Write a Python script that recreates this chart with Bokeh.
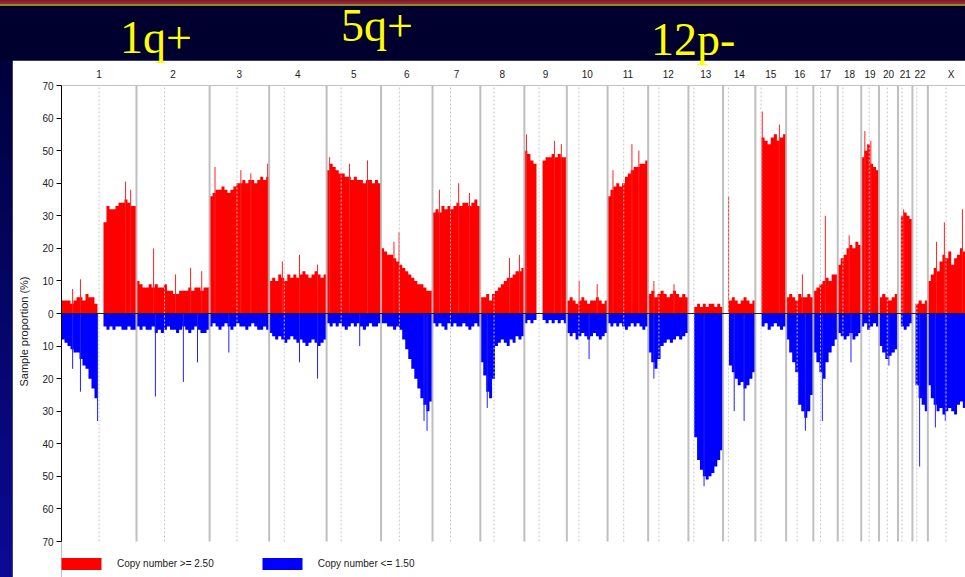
from bokeh.plotting import figure
from bokeh.layouts import column, row
from bokeh.models import (Range1d, FixedTicker, LinearAxis, Legend, LegendItem,
                          ColumnDataSource, Span, Div)
from bokeh.embed import file_html
from bokeh.resources import INLINE

# ---------------- data ----------------
chrom_names = ["1", "2", "3", "4", "5", "6", "7", "8", "9", "10", "11", "12",
               "13", "14", "15", "16", "17", "18", "19", "20", "21", "22", "X"]
chrom_len_mb = [249.25, 243.2, 198.0, 191.15, 180.9, 171.1, 159.1, 146.4, 141.2,
                135.5, 135.0, 133.85, 115.2, 107.3, 102.5, 90.35, 81.2, 78.1,
                59.1, 63.0, 48.1, 51.3, 155.3]
centromere_mb = [125.0, 93.3, 91.0, 50.4, 48.4, 61.0, 59.9, 45.6, 49.0, 40.2,
                 53.7, 35.8, 17.9, 17.6, 19.0, 36.6, 24.0, 17.2, 26.5, 27.5,
                 13.2, 14.7, 60.6]

# gain (copy number >= 2.50), % of samples, evenly spaced along each chromosome
gain_c1 = [4, 4, 4, 3, 4, 5, 5, 4, 6, 5, 5, 3, 0, 0, 28, 33, 32, 32, 33, 34, 34, 35, 34, 33, 33]
gain_c2 = [10, 9, 8, 8, 9, 8, 9, 8, 8, 9, 7, 7, 6, 6, 7, 7, 7, 8, 7, 8, 8, 7, 8, 8]
gain_c3 = [36, 37, 38, 38, 39, 38, 37, 38, 39, 40, 40, 41, 40, 41, 41, 40, 41, 42, 41, 42]
gain_c4 = [10, 11, 10, 12, 11, 10, 12, 11, 12, 11, 12, 13, 12, 11, 12, 13, 12, 11, 12]
gain_c5 = [44, 46, 45, 44, 43, 43, 42, 42, 41, 42, 41, 41, 40, 41, 41, 40, 41, 40]
gain_c6 = [20, 19, 18, 18, 17, 16, 15, 14, 13, 12, 11, 10, 9, 9, 8, 7, 7]
gain_c7 = [31, 32, 31, 33, 32, 33, 32, 33, 34, 33, 34, 34, 33, 34, 35, 33]
gain_c8 = [5, 5, 6, 4, 6, 7, 8, 9, 10, 11, 11, 12, 13, 13, 14]
gain_c9 = [50, 49, 47, 46, 0, 0, 47, 48, 48, 49, 48, 49, 48, 48]
gain_c10 = [4, 5, 4, 3, 4, 5, 4, 3, 4, 4, 5, 4, 3, 4]
gain_c11 = [36, 38, 39, 40, 39, 40, 42, 43, 44, 45, 45, 46, 46, 47]
gain_c12 = [6, 7, 5, 6, 7, 6, 5, 6, 7, 6, 5, 6, 5]
gain_c13 = [0, 0, 2, 3, 2, 3, 2, 3, 3, 2, 3, 2]
gain_c14 = [0, 0, 4, 5, 4, 3, 4, 5, 4, 3, 4]
gain_c15 = [0, 0, 54, 53, 52, 54, 55, 53, 54, 55]
gain_c16 = [5, 6, 5, 4, 6, 5, 5, 6, 5]
gain_c17 = [7, 8, 9, 10, 11, 10, 12, 12]
gain_c18 = [15, 17, 18, 20, 21, 20, 22, 21]
gain_c19 = [48, 50, 52, 46, 45, 44]
gain_c20 = [5, 6, 5, 4, 5, 6]
gain_c21 = [0, 30, 31, 30, 29]
gain_c22 = [0, 3, 4, 3, 4]
gain_cX = [10, 12, 14, 13, 16, 18, 17, 19, 15, 17, 18, 20, 19, 22, 20, 18]

# loss (copy number <= 1.50), % of samples
loss_c1 = [8, 9, 10, 11, 12, 12, 14, 16, 17, 20, 23, 26, 0, 0, 4, 5, 4, 5, 4, 4, 5, 5, 4, 5, 5]
loss_c2 = [4, 5, 4, 5, 5, 4, 6, 5, 6, 5, 4, 5, 5, 6, 5, 4, 5, 6, 5, 4, 5, 6, 6, 5]
loss_c3 = [4, 3, 4, 5, 4, 3, 4, 5, 4, 3, 4, 4, 5, 4, 3, 4, 5, 5, 4, 5]
loss_c4 = [6, 7, 8, 7, 8, 9, 8, 7, 8, 9, 8, 9, 10, 9, 8, 9, 10, 9, 8]
loss_c5 = [3, 4, 3, 4, 3, 4, 5, 4, 3, 4, 3, 4, 5, 4, 3, 4, 4, 3]
loss_c6 = [3, 3, 4, 4, 5, 4, 5, 8, 11, 14, 17, 20, 23, 26, 28, 30, 27]
loss_c7 = [3, 4, 3, 4, 5, 3, 4, 3, 4, 4, 3, 4, 5, 4, 3, 4]
loss_c8 = [15, 19, 24, 26, 20, 10, 9, 8, 9, 10, 8, 9, 7, 8, 7]
loss_c9 = [3, 2, 3, 2, 0, 0, 2, 3, 2, 3, 2, 3, 2, 3]
loss_c10 = [6, 7, 6, 8, 7, 6, 7, 8, 7, 6, 7, 8, 7, 6]
loss_c11 = [3, 4, 3, 4, 3, 4, 5, 4, 3, 4, 3, 4, 5, 4]
loss_c12 = [12, 15, 17, 14, 10, 9, 8, 9, 8, 7, 8, 7, 6]
loss_c13 = [0, 0, 38, 45, 48, 50, 51, 50, 49, 47, 45, 42]
loss_c14 = [0, 0, 16, 18, 20, 22, 21, 23, 22, 20, 18]
loss_c15 = [0, 0, 4, 3, 5, 4, 3, 4, 5, 4]
loss_c16 = [8, 12, 15, 18, 28, 30, 32, 30, 25]
loss_c17 = [12, 15, 18, 20, 15, 12, 10, 8]
loss_c18 = [6, 7, 8, 7, 6, 8, 7, 6]
loss_c19 = [4, 3, 5, 4, 3, 4]
loss_c20 = [10, 12, 14, 13, 12, 11]
loss_c21 = [0, 4, 5, 4, 3]
loss_c22 = [0, 22, 26, 28, 30]
loss_cX = [22, 26, 28, 30, 29, 31, 30, 29, 30, 31, 28, 27, 29, 30, 28, 27]

# narrow peaks (chromosome, position in Mb, %)
gain_spike_chrom = ["1", "1", "1", "1", "2", "2", "2", "2", "3", "3", "3", "3",
                    "4", "4", "4", "5", "5", "5", "6", "6", "7", "7", "7", "8", "8",
                    "9", "9", "9", "10", "10", "11", "11", "11", "12", "12", "14",
                    "15", "15", "16", "17", "18", "19", "19", "21", "X", "X", "X"]
gain_spike_mb = [37, 63, 213, 230, 57, 130, 180, 217, 18, 104, 137, 193,
                 44, 101, 161, 10, 76, 136, 43, 60, 23, 87, 123, 97, 130,
                 7, 100, 123, 41, 101, 18, 81, 104, 19, 86, 18.5,
                 23, 80, 54, 40, 38, 12, 32, 19, 29, 55, 115]
gain_spike_pct = [7.5, 10.5, 40.5, 38, 20, 12, 14, 13, 45, 44, 43, 46,
                  16, 18, 15, 48, 46, 47, 22, 25, 38, 40, 37, 17, 18,
                  55, 53, 52, 10, 9, 44, 52, 50, 10, 9, 36,
                  62, 58, 12, 30, 24, 56, 53, 32, 22, 28, 32]

loss_spike_chrom = ["1", "1", "1", "2", "2", "2", "3", "4", "4", "5", "6", "6",
                    "8", "10", "12", "13", "14", "14", "16", "17", "18", "20",
                    "22", "X", "X"]
loss_spike_mb = [37, 63, 120, 63, 156, 203, 64, 101, 161, 110, 143, 153,
                 23, 74, 19, 52, 37, 70, 64, 30, 44, 33, 24, 25, 58]
loss_spike_pct = [17, 24, 33, 25.5, 21, 15, 12, 15, 20, 10, 33, 36,
                  29, 14, 20, 53, 30, 33, 36, 33, 15, 16, 47, 35, 33]

y_tick_values = [-70, -60, -50, -40, -30, -20, -10, 0, 10, 20, 30, 40, 50, 60, 70]
legend_labels = ["Copy number >= 2.50", "Copy number <= 1.50"]
callout_texts = ["1q+", "5q+", "12p-"]

gain_profiles = [gain_c1, gain_c2, gain_c3, gain_c4, gain_c5, gain_c6, gain_c7, gain_c8,
                 gain_c9, gain_c10, gain_c11, gain_c12, gain_c13, gain_c14, gain_c15,
                 gain_c16, gain_c17, gain_c18, gain_c19, gain_c20, gain_c21, gain_c22, gain_cX]
loss_profiles = [loss_c1, loss_c2, loss_c3, loss_c4, loss_c5, loss_c6, loss_c7, loss_c8,
                 loss_c9, loss_c10, loss_c11, loss_c12, loss_c13, loss_c14, loss_c15,
                 loss_c16, loss_c17, loss_c18, loss_c19, loss_c20, loss_c21, loss_c22, loss_cX]

# ---------------- layout ----------------
W, H = 965, 577
TOP_H = 60          # navy slide header height
LEFT_W = 12         # navy strip left of the white panel
PW, PH = W - LEFT_W, H - TOP_H
BL, BT = 49, 25     # borders inside the white panel
AXIS_BOTTOM_PX = 541 - TOP_H      # pixel row of -70 inside the panel
X0, X1 = 0.0, 3006.0
Y1, Y_AX = 70.0, -70.0
Y0 = Y_AX - (PH - AXIS_BOTTOM_PX) * (Y1 - Y_AX) / (AXIS_BOTTOM_PX - BT)

offsets = []
acc = 0.0
for L in chrom_len_mb:
    offsets.append(acc)
    acc += L
off_of = dict(zip(chrom_names, offsets))


def step_polys(profiles, sign):
    xs, ys = [], []
    for off, L, prof in zip(offsets, chrom_len_mb, profiles):
        w = L / len(prof)
        px, py = [off], [0]
        for k, v in enumerate(prof):
            px += [off + k * w, off + (k + 1) * w]
            py += [sign * v, sign * v]
        px.append(off + L)
        py.append(0)
        xs.append(px)
        ys.append(py)
    return ColumnDataSource(dict(xs=xs, ys=ys))


p = figure(width=PW, height=PH, x_range=Range1d(X0, X1), y_range=Range1d(Y0, Y1),
           output_backend="svg", toolbar_location=None,
           x_axis_location=None, y_axis_location=None,
           min_border_left=BL, min_border_right=0, min_border_top=BT,
           min_border_bottom=0, background_fill_color="white",
           border_fill_color="white", outline_line_color=None, margin=0)
p.xgrid.visible = False
p.ygrid.visible = False

r_gain = p.patches(xs="xs", ys="ys", source=step_polys(gain_profiles, 1),
                   fill_color="#ff0000", line_color=None)
r_loss = p.patches(xs="xs", ys="ys", source=step_polys(loss_profiles, -1),
                   fill_color="#0000ff", line_color=None)

gx = [off_of[c] + m for c, m in zip(gain_spike_chrom, gain_spike_mb)]
p.segment(x0=gx, x1=gx, y0=[0] * len(gx), y1=gain_spike_pct, line_color="#ff2020", line_width=1)
lx = [off_of[c] + m for c, m in zip(loss_spike_chrom, loss_spike_mb)]
p.segment(x0=lx, x1=lx, y0=[0] * len(lx), y1=[-v for v in loss_spike_pct],
          line_color="#2020ff", line_width=1)

bounds = [o + L for o, L in zip(offsets, chrom_len_mb)][:-1]
p.segment(x0=bounds, x1=bounds, y0=[Y_AX] * len(bounds), y1=[Y1] * len(bounds),
          line_color="#b8b8b8", line_width=2, line_alpha=0.9)
cens = [o + c for o, c in zip(offsets, centromere_mb)]
p.segment(x0=cens, x1=cens, y0=[Y_AX] * len(cens), y1=[Y1] * len(cens),
          line_color="#c8c8c8", line_width=1, line_dash="2 2")

p.add_layout(Span(location=0, dimension="width", line_color="#202020", line_width=1))

font = "Liberation Sans"
yaxis = LinearAxis(ticker=FixedTicker(ticks=y_tick_values, minor_ticks=[]),
                   major_label_overrides={t: str(abs(t)) for t in y_tick_values},
                   axis_label="Sample proportion (%)", bounds=(Y_AX, Y1))
yaxis.axis_line_color = "#000000"
yaxis.major_tick_line_color = "#000000"
yaxis.major_tick_out = 5
yaxis.major_tick_in = 0
yaxis.minor_tick_line_color = None
yaxis.major_label_standoff = 3
yaxis.major_label_text_font = font
yaxis.major_label_text_font_size = "10px"
yaxis.major_label_text_color = "#222222"
yaxis.axis_label_text_font = font
yaxis.axis_label_text_font_size = "11px"
yaxis.axis_label_text_font_style = "normal"
yaxis.axis_label_text_color = "#222222"
yaxis.axis_label_standoff = 9
p.add_layout(yaxis, "left")

mids = [round(o + L / 2, 3) for o, L in zip(offsets, chrom_len_mb)]
taxis = LinearAxis(ticker=FixedTicker(ticks=mids, minor_ticks=[]),
                   major_label_overrides={m: n for m, n in zip(mids, chrom_names)})
taxis.axis_line_color = None
taxis.major_tick_line_color = None
taxis.minor_tick_line_color = None
taxis.major_tick_out = 0
taxis.major_label_standoff = 6
taxis.major_label_text_font = font
taxis.major_label_text_font_size = "10px"
taxis.major_label_text_color = "#222222"
p.add_layout(taxis, "above")

# legend swatches: area-glyph swatches are inset 10% each side, so 50x15 -> 40x12
legend = Legend(items=[LegendItem(label=legend_labels[0], renderers=[r_gain]),
                       LegendItem(label=legend_labels[1], renderers=[r_loss])],
                location=(-5, 6.5), orientation="horizontal", glyph_width=50,
                glyph_height=15, label_height=15, label_standoff=11, spacing=43,
                padding=0, margin=0, border_line_alpha=0, background_fill_alpha=0,
                label_text_font=font, label_text_font_size="10px",
                label_text_color="#222222")
p.add_layout(legend)

# ---------------- slide frame (navy header with yellow call-outs) ----------------
callout_pos = [(120, 14.5), (341, 2.5), (651, 16.5)]
spans = "".join(
    '<span style="position:absolute;left:%dpx;top:%.1fpx;font-family:\'Liberation Serif\';'
    'font-size:46px;line-height:46px;color:#ffff00;white-space:nowrap;">%s</span>' % (x, y, t)
    for t, (x, y) in zip(callout_texts, callout_pos))
header_html = (
    '<div style="position:relative;width:%dpx;height:%dpx;background:#00002e;overflow:visible;">'
    '<div style="position:absolute;left:0;top:0;width:%dpx;height:4px;'
    'background:linear-gradient(#7a1828,#9c2c3c);"></div>'
    '<div style="position:absolute;left:0;top:4px;width:%dpx;height:2px;background:#8e8a26;"></div>'
    '%s</div>' % (W, TOP_H, W, W, spans))
header = Div(text=header_html, width=W, height=TOP_H, margin=0,
             styles={"padding": "0", "margin": "0", "overflow": "visible", "z-index": "2"})
left_strip = Div(text="", width=LEFT_W, height=PH, margin=0,
                 styles={"background": "linear-gradient(to bottom, #00003c, #0a0a96)",
                         "padding": "0", "margin": "0"})

layout = column(header, row(left_strip, p, spacing=0, margin=0), spacing=0, margin=0,
                styles={"background": "#00002e"})

open("out.html", "w").write(file_html(layout, INLINE))
